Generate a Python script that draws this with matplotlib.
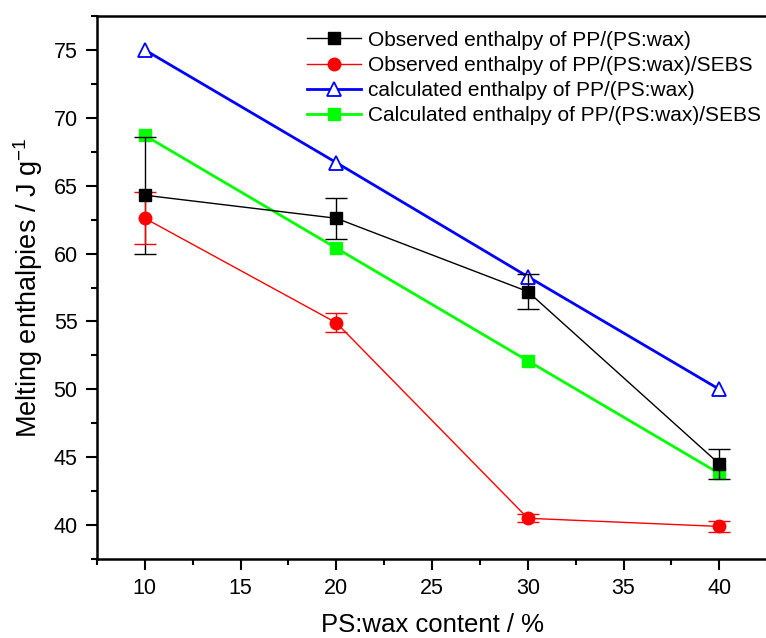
import matplotlib
matplotlib.use('Agg')
import matplotlib.pyplot as plt
from matplotlib.ticker import MultipleLocator

plt.rcParams['font.family'] = ['Liberation Sans', 'DejaVu Sans']

content = [10, 20, 30, 40]

obs_pp = [64.3, 62.6, 57.2, 44.5]
obs_pp_err = [4.3, 1.5, 1.3, 1.1]
obs_sebs = [62.6, 54.9, 40.5, 39.9]
obs_sebs_err = [1.9, 0.7, 0.3, 0.4]
calc_pp = [75.0, 66.7, 58.3, 50.0]
calc_sebs = [68.7, 60.4, 52.1, 43.8]

labels = ['Observed enthalpy of PP/(PS:wax)',
          'Observed enthalpy of PP/(PS:wax)/SEBS',
          'calculated enthalpy of PP/(PS:wax)',
          'Calculated enthalpy of PP/(PS:wax)/SEBS']

fig = plt.figure(figsize=(7.66, 6.38), dpi=100)
ax = fig.add_axes([0.1266, 0.1238, 0.875, 0.8511])

# error bars drawn separately so the legend keeps plain line handles
ax.errorbar(content, obs_pp, yerr=obs_pp_err, fmt='none', ecolor='black', elinewidth=1,
            capsize=8, zorder=4)
ax.errorbar(content, obs_sebs, yerr=obs_sebs_err, fmt='none', ecolor='red', elinewidth=1,
            capsize=8, zorder=4)
ax.plot(content, obs_pp, color='black', lw=1, marker='s', ms=8, label=labels[0], zorder=5)
ax.plot(content, obs_sebs, color='red', lw=1, marker='o', ms=9, label=labels[1], zorder=5)
ax.plot(content, calc_pp, color='blue', lw=2, marker='^', ms=10, mfc='white', mec='blue',
        mew=1.3, label=labels[2], zorder=3)
ax.plot(content, calc_sebs, color='#00ff00', lw=2, marker='s', ms=8, label=labels[3], zorder=3)

ax.set_xlim(7.5, 42.5)
ax.set_ylim(37.5, 77.5)
ax.xaxis.set_major_locator(MultipleLocator(5))
ax.xaxis.set_minor_locator(MultipleLocator(2.5))
ax.yaxis.set_major_locator(MultipleLocator(5))
ax.yaxis.set_minor_locator(MultipleLocator(2.5))
ax.tick_params(which='major', direction='out', length=8, width=1.5, labelsize=15.5, pad=6)
ax.tick_params(which='minor', direction='out', length=4, width=1.5)
for s in ax.spines.values():
    s.set_linewidth(1.8)

ax.set_xlabel('PS:wax content / %', fontsize=18.5, labelpad=10)
ax.set_ylabel('Melting enthalpies / J g$^{\\mathregular{-1}}$', fontsize=19.5, labelpad=6)

ax.legend(loc='upper left', bbox_to_anchor=(0.292, 1.0), frameon=False, fontsize=15,
          handlelength=2.6, labelspacing=0.3, handletextpad=0.3, borderaxespad=0.3)

fig.savefig('out.png', dpi=100)
